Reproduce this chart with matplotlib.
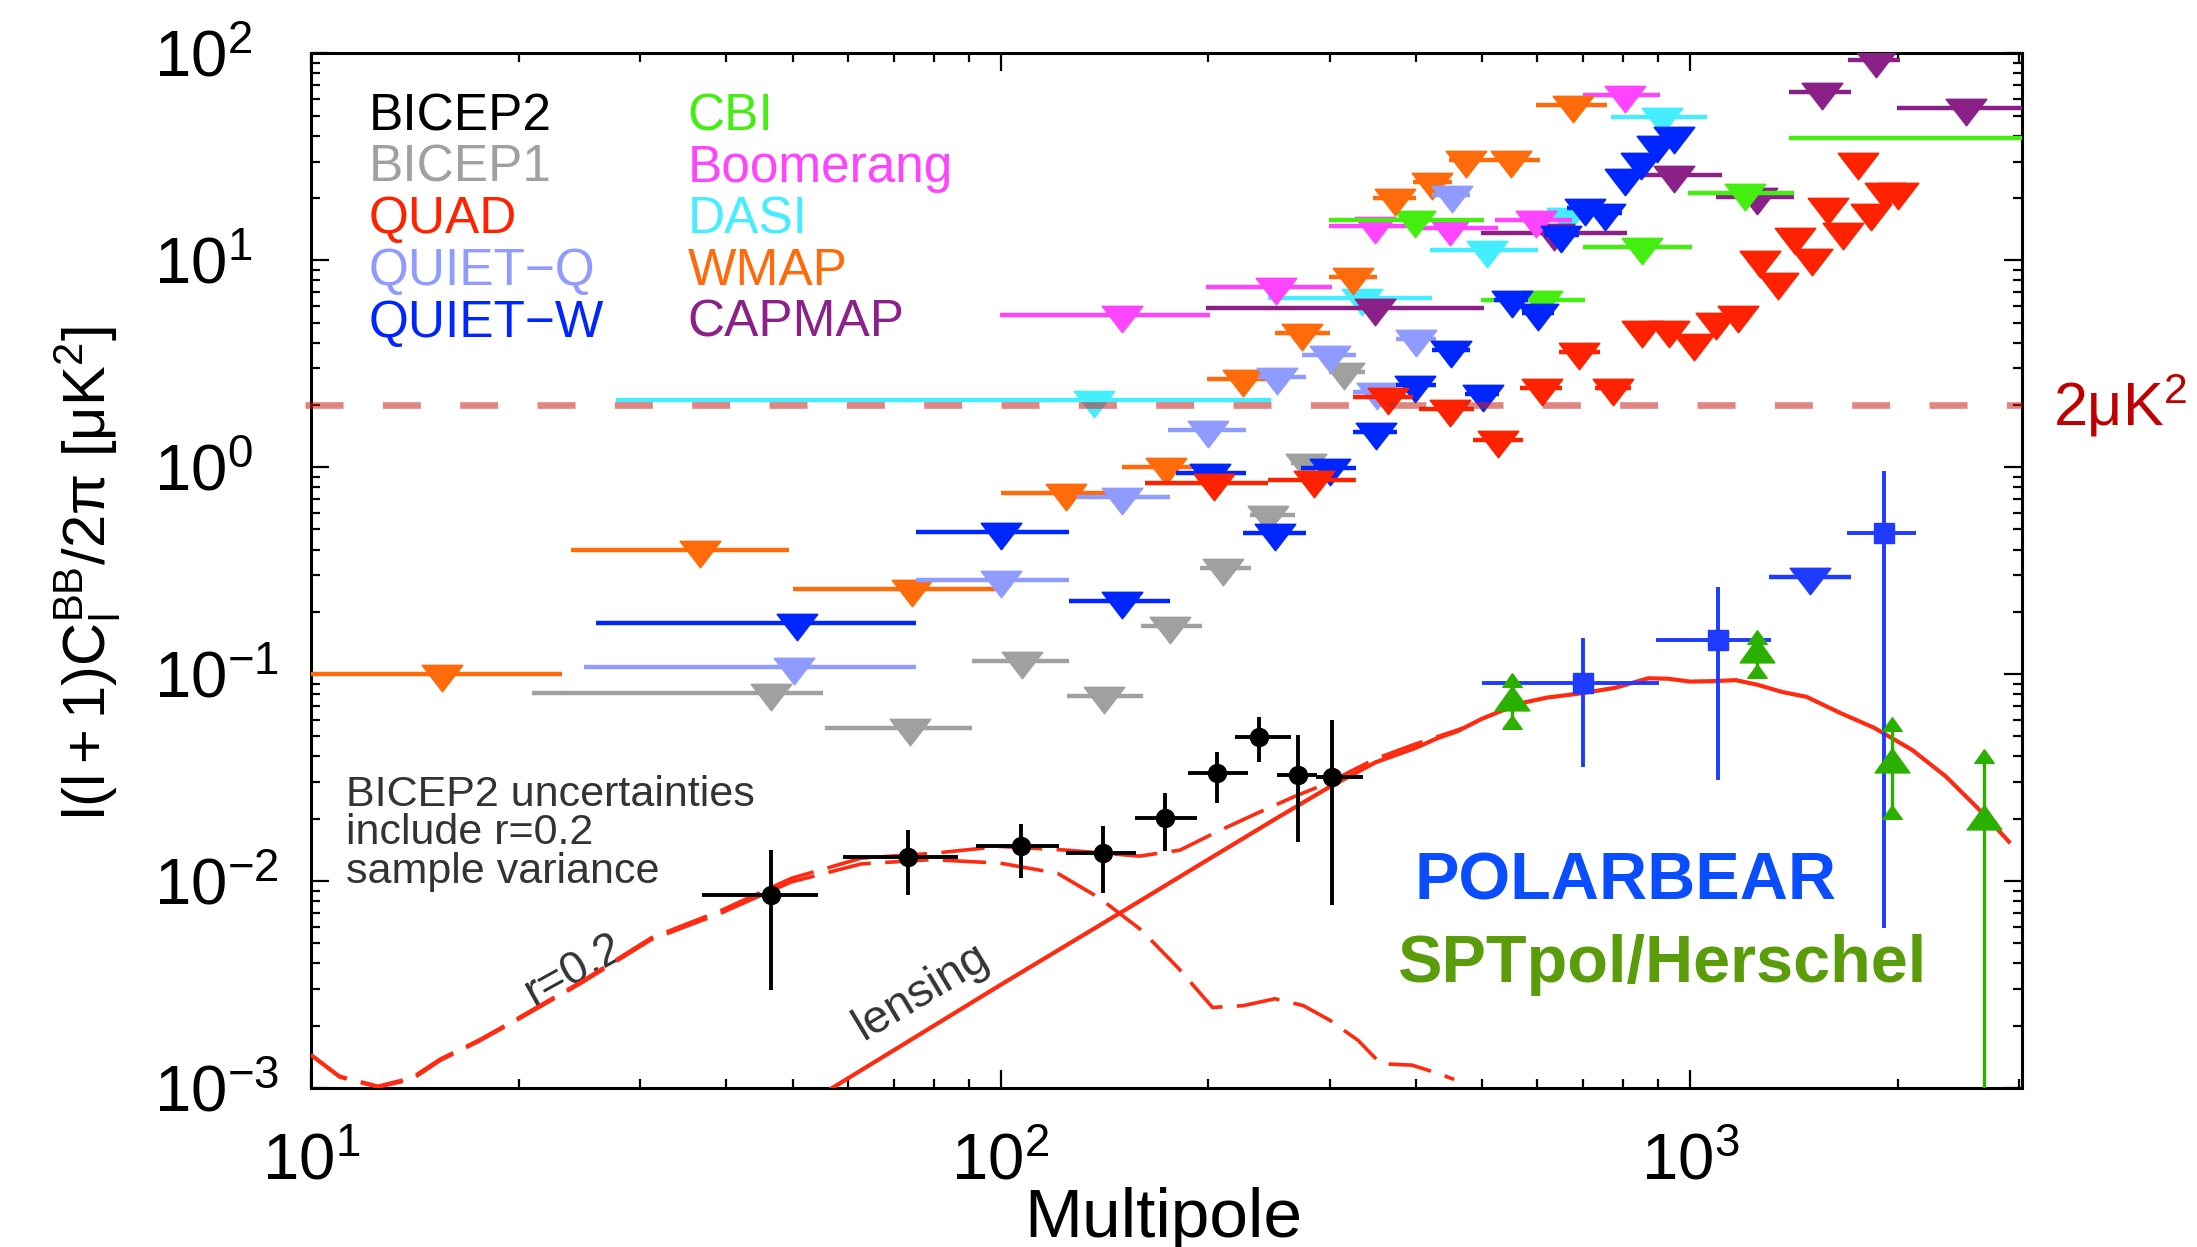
import numpy as np
import matplotlib
matplotlib.use('Agg')
import matplotlib.pyplot as plt
from matplotlib.path import Path
from matplotlib.ticker import FixedLocator, FuncFormatter, NullFormatter, LogLocator

plt.rcParams['font.family'] = ['Liberation Sans', 'DejaVu Sans']
plt.rcParams['mathtext.fontset'] = 'custom'
plt.rcParams['mathtext.rm'] = 'Liberation Sans'
plt.rcParams['mathtext.it'] = 'Liberation Sans:italic'
plt.rcParams['mathtext.bf'] = 'Liberation Sans:bold'
plt.rcParams['mathtext.default'] = 'regular'

# ---- upper limits: bin low edge, bin high edge, multipole, 95% upper limit [uK^2]
wmap_lo = [2, 23.8, 50, 100, 150, 199, 250, 299, 347, 397, 447, 502, 597]
wmap_hi = [23.1, 49.3, 100, 150, 200, 250, 301, 352, 401, 451, 502, 605, 759]
wmap_l = [15.5, 36.6, 74.5, 124.6, 174, 225, 274, 324, 373, 423, 473, 550, 676]
wmap_v = [0.10, 0.40, 0.257, 0.75, 1.0, 2.67, 4.43, 8.3, 19.9, 23.9, 30.5, 30.5, 56]

bicep1_lo = [20.9, 55.7, 90.8, 125, 160, 194.5, 230, 264, 299]
bicep1_hi = [55.3, 90.8, 125.8, 161, 196, 231, 267, 294, 338]
bicep1_l = [46.5, 73.8, 107.3, 141.3, 176, 210, 244, 277, 315]
bicep1_v = [0.0807, 0.0547, 0.116, 0.0783, 0.171, 0.324, 0.587, 1.05, 2.89]

quietq_lo = [24.9, 75.3, 129, 175, 236, 274, 325, 374, 423]
quietq_hi = [75.3, 125.8, 176, 227, 277, 328, 372, 428, 480]
quietq_l = [50.1, 100.3, 150, 200, 252, 300, 351, 400, 451]
quietq_v = [0.108, 0.285, 0.72, 1.51, 2.72, 3.48, 2.31, 4.15, 20.7]

quietw_lo = [25.9, 75.3, 125.8, 179.5, 224.5, 273, 325, 374, 422, 472, 519, 570, 614, 664, 711, 785, 830, 878, 928]
quietw_hi = [75.3, 125.8, 176, 227, 277, 328, 376, 428, 479, 529, 582, 635, 691, 743, 796, 825, 870, 915, 968]
quietw_l = [50.6, 100.3, 150, 201, 250, 301, 350, 399, 450, 501, 551, 601, 650, 703, 752, 804, 849, 896, 947]
quietw_v = [0.177, 0.487, 0.226, 0.933, 0.479, 0.986, 1.48, 2.49, 3.68, 2.27, 6.42, 5.54, 13.2, 17.8, 16.9, 24.9, 29.9, 36.0, 39.8]

quad_lo = [162, 244, 325, 404, 484, 566, 646, 728, 820, 895, 975, 1050, 1130, 1215, 1290, 1365, 1445, 1525, 1605, 1685, 1765, 1845, 1930]
quad_hi = [244, 328, 396, 486, 572, 653, 740, 822, 885, 970, 1055, 1135, 1220, 1310, 1395, 1475, 1560, 1650, 1735, 1820, 1905, 1990, 2080]
quad_l = [204, 285, 365, 448, 527, 609, 691, 774, 851, 932, 1014, 1092, 1174, 1262, 1341, 1419, 1503, 1585, 1667, 1750, 1833, 1916, 2003]
quad_v = [0.835, 0.866, 2.18, 1.92, 1.35, 2.40, 3.61, 2.40, 4.60, 4.60, 3.97, 5.04, 5.43, 10.0, 7.87, 13.0, 10.2, 18.1, 13.7, 29.9, 16.9, 21.4, 21.4]

boom_lo = [99.7, 198.6, 299, 395, 522, 699]
boom_hi = [201, 303, 395, 527, 675, 906]
boom_l = [150, 250.6, 349, 448, 597, 804]
boom_v = [5.44, 7.40, 14.6, 14.3, 15.6, 62.9]

dasi_lo = [27.7, 244, 419, 593, 769]
dasi_hi = [247, 423, 601, 695, 1058]
dasi_l = [136.5, 334, 508, 664, 912]
dasi_v = [2.11, 6.54, 11.2, 16.2, 49.4]

cbi_lo = [299, 498, 699, 992, 1392]
cbi_hi = [502, 705, 1007, 1415, 3500]
cbi_l = [399, 609, 851, 1202, np.nan]
cbi_v = [15.6, 6.42, 11.6, 21.1, 39.1]

capmap_lo = [198.6, 498, 837, 1092, 1392, 1694, 1995]
capmap_hi = [502, 810, 1111, 1415, 1714, 2019, 3500]
capmap_l = [349, 635, 948, 1250, 1553, 1858, 2513]
capmap_v = [5.86, 13.6, 25.8, 20.3, 64.8, 93.3, 54.7]

# ---- detections
bicep2_l = [46.4, 73.3, 107, 141, 173.2, 205.9, 237, 270.4, 303]
bicep2_lo = [36.9, 59.0, 92.1, 124.6, 156.7, 187, 219, 251.6, 287]
bicep2_hi = [54.3, 86.7, 121.7, 157.4, 192.6, 228.6, 263.7, 287.4, 335]
bicep2_v = [0.00855, 0.0131, 0.01475, 0.0136, 0.0201, 0.0331, 0.0498, 0.0325, 0.0319]
bicep2_top = [0.0141, 0.0176, 0.01897, 0.0184, 0.0265, 0.0421, 0.0618, 0.0507, 0.060]
bicep2_bot = [0.00297, 0.00855, 0.0103, 0.00877, 0.0140, 0.0239, 0.0377, 0.01549, 0.00765]

pb_l = [700.6, 1099, 1910]
pb_lo = [499, 893, 1691]
pb_hi = [903, 1312, 2128]
pb_v = [0.0902, 0.146, 0.482]
pb_top = [0.1487, 0.264, 0.961]
pb_bot = [0.0356, 0.0308, 0.00596]
pb_lim_lo, pb_lim_hi, pb_lim_l, pb_lim_v = [1300], [1714], [1493], [0.295]

spt_l = [551, 1252, 1963, 2667]
spt_v = [0.0749, 0.1278, 0.0377, 0.0200]
spt_top = [0.0925, 0.149, 0.0566, 0.0398]
spt_bot = [0.0579, 0.1023, 0.0213, 0.0005]

# ---- model spectra
lens_l = [50, 57, 100, 150, 200, 250, 300, 350, 400, 430, 460, 500, 530, 570, 620, 700, 780, 870, 930, 1000, 1080, 1165, 1250, 1360, 1475, 1650, 1850, 2100, 2350, 2650, 2900]
lens_v = [0.00077, 0.001, 0.00315, 0.0071, 0.0127, 0.0199, 0.0285, 0.0375, 0.044, 0.049, 0.053, 0.061, 0.066, 0.0725, 0.077, 0.081, 0.086, 0.0955, 0.095, 0.092, 0.0925, 0.0935, 0.089, 0.082, 0.0777, 0.065, 0.055, 0.043, 0.032, 0.0215, 0.0155]

tens_l = [10, 11, 12.5, 14, 15.4, 17.5, 19.5, 24.6, 31.1, 39.3, 49.7, 62.8, 79.4, 100, 121, 139, 160, 181, 203, 225, 250, 275, 300, 330, 356, 395, 430, 455]
tens_v = [0.00144, 0.00113, 0.00101, 0.00110, 0.00136, 0.00168, 0.00205, 0.0032, 0.0052, 0.0070, 0.0099, 0.0121, 0.0127, 0.0122, 0.0109, 0.0083, 0.0058, 0.0038, 0.00245, 0.0025, 0.0027, 0.0025, 0.00213, 0.0017, 0.00131, 0.00129, 0.00118, 0.0011]

tot_l = [10, 11, 12.5, 14, 15.4, 17.5, 19.5, 24.6, 31.1, 39.3, 49.7, 62.8, 79.4, 100, 125, 159, 182, 206, 235, 266, 297, 350, 400, 470]
tot_v = [0.00145, 0.00114, 0.00102, 0.00112, 0.00138, 0.0017, 0.00208, 0.00325, 0.0053, 0.0072, 0.0103, 0.0129, 0.0136, 0.0147, 0.0141, 0.0132, 0.0141, 0.0173, 0.0212, 0.0255, 0.0296, 0.039, 0.046, 0.055]

fig = plt.figure(figsize=(21.97, 12.47), dpi=100)
ax = fig.add_axes([311 / 2197, 1 - 1088 / 1247, 1711 / 2197, 1034.7 / 1247])
ax.set_xscale('log')
ax.set_yscale('log')
ax.set_xlim(10, 3030)
ax.set_ylim(1e-3, 1e2)

down = Path([(-1, 0.45), (1, 0.45), (0, -0.85), (-1, 0.45)],
            [Path.MOVETO, Path.LINETO, Path.LINETO, Path.CLOSEPOLY])
up = Path([(-1, -0.6), (1, -0.6), (0, 0.8), (-1, -0.6)],
          [Path.MOVETO, Path.LINETO, Path.LINETO, Path.CLOSEPOLY])


def limits(lo, hi, ell, val, color, z):
    ax.hlines(val, lo, hi, colors=color, lw=3.2, zorder=z)
    ax.plot(ell, val, ls='none', marker=down, ms=29, color=color, mec=color, mew=1.2, zorder=z)


limits(dasi_lo, dasi_hi, dasi_l, dasi_v, '#44EEFF', 3)
limits(capmap_lo, capmap_hi, capmap_l, capmap_v, '#8B2089', 3.1)
limits(boom_lo, boom_hi, boom_l, boom_v, '#FF44FF', 3.2)
limits(cbi_lo, cbi_hi, cbi_l, cbi_v, '#44EE11', 3.3)
limits(wmap_lo, wmap_hi, wmap_l, wmap_v, '#FF6A0A', 3.4)
limits(bicep1_lo, bicep1_hi, bicep1_l, bicep1_v, '#A0A0A0', 3.5)
limits(quietq_lo, quietq_hi, quietq_l, quietq_v, '#8F9BFF', 3.6)
limits(quietw_lo, quietw_hi, quietw_l, quietw_v, '#0026FF', 3.7)
limits(quad_lo, quad_hi, quad_l, quad_v, '#FF2200', 3.8)
limits(pb_lim_lo, pb_lim_hi, pb_lim_l, pb_lim_v, '#1E3BFF', 3.9)

# model curves
red = '#FF2A10'
ax.plot(lens_l, lens_v, color=red, lw=3.0, zorder=4)
ax.plot(tens_l, tens_v, color=red, lw=2.6, dashes=(12, 4), zorder=4)
ax.plot(tot_l, tot_v, color=red, lw=2.6, dashes=(12, 4), zorder=4)

# BICEP2
b2 = np.array(bicep2_v)
b2l = np.array(bicep2_l)
ax.errorbar(b2l, b2, yerr=[b2 - np.array(bicep2_bot), np.array(bicep2_top) - b2],
            xerr=[b2l - np.array(bicep2_lo), np.array(bicep2_hi) - b2l],
            fmt='o', color='black', ms=13, elinewidth=2.8, capsize=0, zorder=6)

# POLARBEAR
pv = np.array(pb_v)
pl = np.array(pb_l)
ax.errorbar(pl, pv, yerr=[pv - np.array(pb_bot), np.array(pb_top) - pv],
            xerr=[pl - np.array(pb_lo), np.array(pb_hi) - pl],
            fmt='s', color='#1E3BFF', ms=14, elinewidth=2.8, capsize=0, zorder=6)

# SPTpol / Herschel
green = '#2BB000'
ax.vlines(spt_l, spt_bot, spt_top, colors=green, lw=2.4, zorder=6)
ax.plot(spt_l, spt_top, ls='none', marker=up, ms=14, color=green, zorder=6)
ax.plot(spt_l[:3], spt_bot[:3], ls='none', marker=up, ms=14, color=green, zorder=6)
ax.plot(spt_l, spt_v, ls='none', marker=up, ms=25, color=green, zorder=6)

# 2 uK^2 reference line
ax.plot([9.8, 3030], [2, 2], color='#C8231C', alpha=0.55, lw=4.8, dashes=(5.7, 5.9),
        zorder=7, clip_on=False)
ax.text(1.018, 2, '2μK$^2$', transform=ax.get_yaxis_transform(), color='#C00000',
        fontsize=44, ha='left', va='center', clip_on=False)

# axes styling
fmt = FuncFormatter(lambda v, p: r'$\mathregular{10^{%d}}$' % round(np.log10(v)))
ax.xaxis.set_major_locator(FixedLocator([10, 100, 1000]))
ax.yaxis.set_major_locator(FixedLocator([1e-3, 1e-2, 1e-1, 1, 10, 100]))
for a in (ax.xaxis, ax.yaxis):
    a.set_major_formatter(fmt)
    a.set_minor_locator(LogLocator(base=10, subs=np.arange(2, 10), numticks=20))
    a.set_minor_formatter(NullFormatter())
ax.tick_params(which='both', direction='in', top=True, right=True, width=1.6)
ax.tick_params(which='major', length=13)
ax.tick_params(which='minor', length=6.5)
ax.tick_params(axis='x', labelsize=47, pad=32)
ax.tick_params(axis='y', labelsize=47, pad=113)
for lab in ax.get_yticklabels():
    lab.set_ha('left')
for s in ax.spines.values():
    s.set_linewidth(2.2)

fig.text(1163 / 2197, 1 - 1237 / 1247, 'Multipole', fontsize=50, ha='center', va='baseline')
fig.text(52 / 2197, 1 - 573 / 1247, r'$l(l+1)C_l^{BB}/2\pi\ [\mu K^2]$', fontsize=43,
         rotation=90, ha='left', va='center')

# experiment labels
names1 = ['BICEP2', 'BICEP1', 'QUAD', 'QUIET\u2212Q', 'QUIET\u2212W']
cols1 = ['black', '#A0A0A0', '#FF2200', '#8F9BFF', '#0026FF']
names2 = ['CBI', 'Boomerang', 'DASI', 'WMAP', 'CAPMAP']
cols2 = ['#44EE11', '#FF44FF', '#44EEFF', '#FF6A0A', '#8B2089']
rows = [0.9258, 0.8758, 0.8259, 0.7759, 0.7260]
for n, c, y in zip(names1, cols1, rows):
    ax.text(0.0335, y, n, color=c, fontsize=37, transform=ax.transAxes, va='baseline')
for n, c, y in zip(names2, cols2, rows):
    ax.text(0.2200, y, n, color=c, fontsize=37, transform=ax.transAxes, va='baseline')

note = ['BICEP2 uncertainties', 'include r=0.2', 'sample variance']
for i, t in enumerate(note):
    ax.text(0.0205, 0.2729 - 0.0372 * i, t, color='#333333', fontsize=31,
            transform=ax.transAxes, va='baseline')

ax.text(0.1539, 0.1145, 'r=0.2', color='#333333', fontsize=33, rotation=29,
        transform=ax.transAxes, ha='center', va='center')
ax.text(0.3568, 0.0929, 'lensing', color='#333333', fontsize=34, rotation=31,
        transform=ax.transAxes, ha='center', va='center')

ax.text(0.768, 0.1817, 'POLARBEAR', color='#0A4DFF', fontsize=48, fontweight='bold',
        transform=ax.transAxes, ha='center', va='baseline')
ax.text(0.7896, 0.1028, 'SPTpol/Herschel', color='#5A9C0A', fontsize=48, fontweight='bold',
        transform=ax.transAxes, ha='center', va='baseline')

fig.savefig('out.png', dpi=100)
